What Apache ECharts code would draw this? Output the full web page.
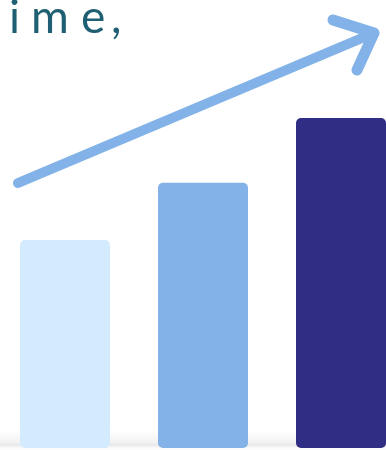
<!DOCTYPE html>
<html>
<head>
<meta charset="utf-8">
<script src="https://cdn.jsdelivr.net/npm/echarts@6/dist/echarts.min.js"></script>
<style>
  html, body { margin: 0; padding: 0; background: #fff; }
  #chart { width: 386px; height: 450px; }
</style>
</head>
<body>
<div id="chart"></div>
<script>
// bar data
const categories = ['A', 'B', 'C']
const values = [52, 66.3, 82.5]
const barColors = ['#d3ebfc', '#82b2e7', '#302e84']

// heading fragment, one glyph per entry (spread out letters)
const headingChars = ['i', 'm', 'e', ',']

// arrow drawn in the overlay grid (0..386 x 0..450, y down)
const arrowShaft = [[18, 183], [374, 33]]
const arrowHead = [[333, 20], [374, 33], [357, 70]]

const chart = echarts.init(document.getElementById('chart'))

const charX = [9, 31, 81, 111]
const graphic = [
  {
    type: 'rect',
    z: -1,
    shape: { x: 0, y: 430, width: 386, height: 20 },
    style: {
      fill: new echarts.graphic.LinearGradient(0, 0, 0, 1, [
        { offset: 0, color: '#ffffff' },
        { offset: 0.6, color: '#f3f3f3' },
        { offset: 0.75, color: '#e8e8e8' },
        { offset: 0.85, color: '#f7f7f7' },
        { offset: 1, color: '#ffffff' },
      ]),
    },
  },
].concat(
  headingChars.map((c, i) => ({
    type: 'text',
    left: charX[i],
    top: -5,
    style: {
      text: c,
      fill: '#1f5f74',
      font: '400 46px Lato, "Open Sans", sans-serif',
    },
  }))
)

const option = {
  animation: false,
  graphic: graphic,
  grid: [
    { left: -4, width: 414, top: 48, bottom: 2, outerBoundsMode: 'none' },
    { left: 0, right: 0, top: 0, bottom: 0, outerBoundsMode: 'none' },
  ],
  xAxis: [
    {
      type: 'category',
      gridIndex: 0,
      data: categories,
      axisLine: { show: false },
      axisTick: { show: false },
      axisLabel: { show: false },
    },
    {
      type: 'value',
      gridIndex: 1,
      min: 0,
      max: 386,
      show: false,
    },
  ],
  yAxis: [
    {
      type: 'value',
      gridIndex: 0,
      min: 0,
      max: 100,
      show: false,
      splitLine: { show: false },
    },
    {
      type: 'value',
      gridIndex: 1,
      min: 0,
      max: 450,
      inverse: true,
      show: false,
    },
  ],
  series: [
    {
      type: 'bar',
      xAxisIndex: 0,
      yAxisIndex: 0,
      barWidth: 90,
      data: values.map((v, i) => ({
        value: v,
        itemStyle: { color: barColors[i], borderRadius: 5 },
      })),
    },
    {
      type: 'line',
      xAxisIndex: 1,
      yAxisIndex: 1,
      symbol: 'none',
      data: arrowShaft,
      lineStyle: { color: '#82b2e7', width: 10, cap: 'round', join: 'round' },
    },
    {
      type: 'line',
      xAxisIndex: 1,
      yAxisIndex: 1,
      symbol: 'none',
      data: arrowHead,
      lineStyle: { color: '#82b2e7', width: 11, cap: 'round', join: 'round' },
    },
  ],
}

chart.setOption(option)
</script>
</body>
</html>
